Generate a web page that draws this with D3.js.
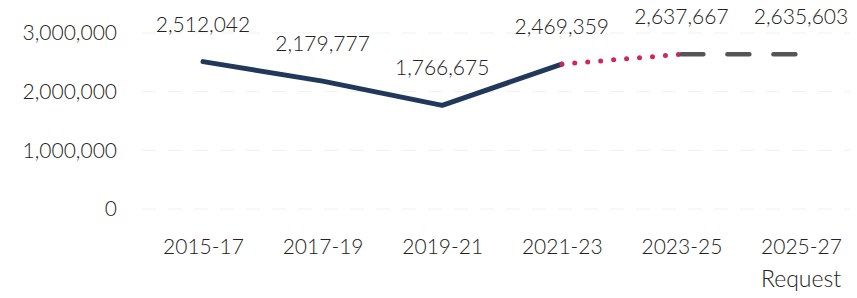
<!doctype html>
<html>
<head>
<meta charset="utf-8">
<script src="https://cdn.jsdelivr.net/npm/d3@7"></script>
<style>
body { margin: 0; background: #fff; }
text { font-family: Lato, "Noto Sans", sans-serif; font-weight: 300; fill: #222; }
</style>
</head>
<body>
<div id="chart"></div>
<script>
// data
var periods = ["2015-17", "2017-19", "2019-21", "2021-23", "2023-25", "2025-27"];
var values = [2512042, 2179777, 1766675, 2469359, 2637667, 2635603];
var yTicks = [0, 1000000, 2000000, 3000000];
var subLabel = "Request"; // second line under last period

var width = 857, height = 298;

var svg = d3.select("#chart").append("svg")
    .attr("width", width)
    .attr("height", height);

var x = d3.scalePoint()
    .domain(periods)
    .range([203, 801]);

var y = d3.scaleLinear()
    .domain([0, 3000000])
    .range([209, 33]);

var data = periods.map(function(p, i) { return {period: p, value: values[i]}; });

// faint grid lines
svg.append("g")
  .selectAll("line")
  .data(yTicks)
  .enter().append("line")
    .attr("x1", 142)
    .attr("x2", 850)
    .attr("y1", function(d) { return y(d); })
    .attr("y2", function(d) { return y(d); })
    .attr("stroke", "#f0f0f0")
    .attr("stroke-width", 1)
    .attr("stroke-dasharray", "14,12");

// y axis
var yAxis = svg.append("g")
    .attr("transform", "translate(124,0)")
    .call(d3.axisLeft(y).tickValues(yTicks).tickSize(0).tickFormat(d3.format(",")));
yAxis.select(".domain").remove();
yAxis.selectAll("text")
    .attr("x", -7)
    .style("font-family", "Lato, sans-serif")
    .style("font-weight", "300")
    .style("font-size", "21px")
    .style("fill", "#222");

// x axis
var xAxis = svg.append("g")
    .attr("transform", "translate(0,232)")
    .call(d3.axisBottom(x).tickSize(0));
xAxis.select(".domain").remove();
xAxis.selectAll("text")
    .attr("dy", "0.9em")
    .style("font-family", "Lato, sans-serif")
    .style("font-weight", "300")
    .style("font-size", "21px")
    .style("fill", "#222");

svg.append("text")
    .attr("x", x(periods[periods.length - 1]))
    .attr("y", 287)
    .attr("text-anchor", "middle")
    .style("font-size", "23px")
    .text(subLabel);

var line = d3.line()
    .x(function(d) { return x(d.period); })
    .y(function(d) { return y(d.value); });

// actual: solid navy
svg.append("path")
    .datum(data.slice(0, 4))
    .attr("d", line)
    .attr("fill", "none")
    .attr("stroke", "#22385a")
    .attr("stroke-width", 5)
    .attr("stroke-linecap", "round")
    .attr("stroke-linejoin", "round");

// estimate: red dots
svg.append("path")
    .datum(data.slice(3, 5))
    .attr("d", line)
    .attr("fill", "none")
    .attr("stroke", "#d2265a")
    .attr("stroke-width", 5)
    .attr("stroke-linecap", "round")
    .attr("stroke-dasharray", "0,13");

// request: gray dashes
svg.append("path")
    .datum(data.slice(4, 6))
    .attr("d", line)
    .attr("fill", "none")
    .attr("stroke", "#555")
    .attr("stroke-width", 4.5)
    .attr("stroke-linecap", "round")
    .attr("stroke-dasharray", "22,24");

// value labels
svg.append("g")
  .selectAll("text")
  .data(data)
  .enter().append("text")
    .attr("x", function(d) { return x(d.period); })
    .attr("y", function(d) { return y(d.value) - 30; })
    .attr("text-anchor", "middle")
    .style("font-size", "21px")
    .style("fill", "#222")
    .text(function(d) { return d3.format(",")(d.value); });
</script>
</body>
</html>
